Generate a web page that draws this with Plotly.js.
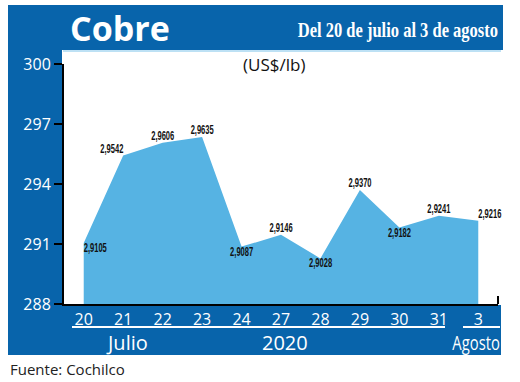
<!DOCTYPE html>
<html>
<head>
<meta charset="utf-8">
<script src="https://cdn.plot.ly/plotly-3.0.1.min.js"></script>
<style>html,body{margin:0;padding:0;background:#fff;}#chart{width:520px;height:382px;}</style>
</head>
<body>
<div id="chart"></div>
<script>
// Data (US$/lb)
const days = ['20','21','22','23','24','27','28','29','30','31','3'];
const prices = [2.9105, 2.9542, 2.9606, 2.9635, 2.9087, 2.9146, 2.9028, 2.9370, 2.9182, 2.9241, 2.9216];
const yTicks = [288, 291, 294, 297, 300];
const labelPos = ['bottom right','top left','top center','top center','bottom center','top center','bottom center','top center','bottom center','top center','top right'];

const cents = prices.map(v => v * 100);
const labels = prices.map(v => v.toFixed(4).replace('.', ','));

const W = 520, H = 382;
const L = 64, R = 498, T = 64, B = 304;
const px = x => (x - L) / (R - L);
const py = y => (B - y) / (B - T);

const dark = '#0864ab';
const fillc = '#56b3e3';

const rect = (x0, y0, x1, y1, color) => ({
  type: 'rect', xref: 'paper', yref: 'paper', layer: 'below',
  x0: px(x0), x1: px(x1), y0: py(y1), y1: py(y0),
  fillcolor: color, line: {width: 0}
});
const hline = (x0, x1, y, color, w) => ({
  type: 'line', xref: 'paper', yref: 'paper', layer: 'above',
  x0: px(x0), x1: px(x1), y0: py(y), y1: py(y), line: {color: color, width: w}
});

const traces = [
  {
    x: days, y: cents, type: 'scatter', mode: 'lines',
    fill: 'tozeroy', fillcolor: fillc, line: {width: 0, color: fillc},
    hoverinfo: 'skip', showlegend: false
  },
  {
    x: days, y: cents, type: 'scatter', mode: 'text',
    text: labels, textposition: labelPos, cliponaxis: false,
    textfont: {family: 'Liberation Sans, Arial, sans-serif', size: 12, color: '#111', weight: 'bold'},
    hoverinfo: 'skip', showlegend: false
  }
];

const annFont = (size, color, family) => ({family: family || 'Open Sans, sans-serif', size: size, color: color});
const ann = (text, x, y, font, xanchor) => ({
  text: text, xref: 'paper', yref: 'paper', x: px(x), y: py(y),
  xanchor: xanchor || 'center', yanchor: 'middle', showarrow: false, font: font
});

const layout = {
  width: W, height: H,
  margin: {l: L, r: W - R, t: T, b: H - B, pad: 0},
  paper_bgcolor: '#ffffff', plot_bgcolor: '#ffffff',
  showlegend: false,
  xaxis: {
    type: 'category', range: [-0.5, 10.5], fixedrange: true,
    showline: true, linecolor: '#000', linewidth: 2,
    ticks: '', showgrid: false, zeroline: false,
    tickfont: {family: 'Open Sans, sans-serif', size: 16, color: '#fff'}
  },
  yaxis: {
    range: [288, 300], tickvals: yTicks, ticktext: yTicks.map(String),
    showline: true, linecolor: '#000', linewidth: 2,
    ticks: 'outside', ticklen: 8, tickwidth: 2, tickcolor: '#000',
    showgrid: false, zeroline: false,
    tickfont: {family: 'Open Sans, sans-serif', size: 16, color: '#fff'}
  },
  shapes: [
    rect(8, 5, 503, 50, dark),
    rect(8, 5, 62, 355, dark),
    rect(8, 305, 501, 355, dark),
    hline(63, 501, 51, '#7cc3ea', 1),
    hline(72, 445, 327, '#ffffff', 2),
    hline(463, 500, 327, '#ffffff', 2),
    {type: 'line', xref: 'paper', yref: 'paper', x0: 1, x1: 1, y0: 0, y1: py(296), line: {color: '#000', width: 2}}
  ],
  annotations: [
    ann('<b>Cobre</b>', 68, 28, annFont(34, '#fff'), 'left'),
    ann('<b>Del 20 de julio al 3 de agosto</b>', 500, 29, annFont(22, '#fff', 'Liberation Serif, serif'), 'right'),
    ann('(US$/lb)', 274, 64, annFont(17, '#111')),
    ann('Julio', 127, 342, annFont(20, '#fff')),
    ann('2020', 285, 342, annFont(20, '#fff')),
    ann('Agosto', 476, 342, annFont(20, '#fff')),
    ann('Fuente: Cochilco', 8, 369, annFont(15, '#222'), 'left')
  ]
};

function squeeze(el, sx, origin) {
  el.style.transformBox = 'fill-box';
  el.style.transformOrigin = origin;
  el.style.transform = 'scaleX(' + sx + ')';
}

Plotly.newPlot('chart', traces, layout, {displayModeBar: false, staticPlot: true}).then(() => {
  document.querySelectorAll('#chart .textpoint text').forEach(t => {
    const a = t.getAttribute('text-anchor');
    squeeze(t, 0.63, a === 'start' ? 'left center' : a === 'end' ? 'right center' : 'center');
  });
  document.querySelectorAll('#chart .annotation-text').forEach(t => {
    const s = t.textContent;
    if (s === 'Agosto') squeeze(t, 0.74, 'center');
    if (s.indexOf('Del 20') === 0) squeeze(t, 0.75, 'right center');
  });
});
</script>
</body>
</html>
